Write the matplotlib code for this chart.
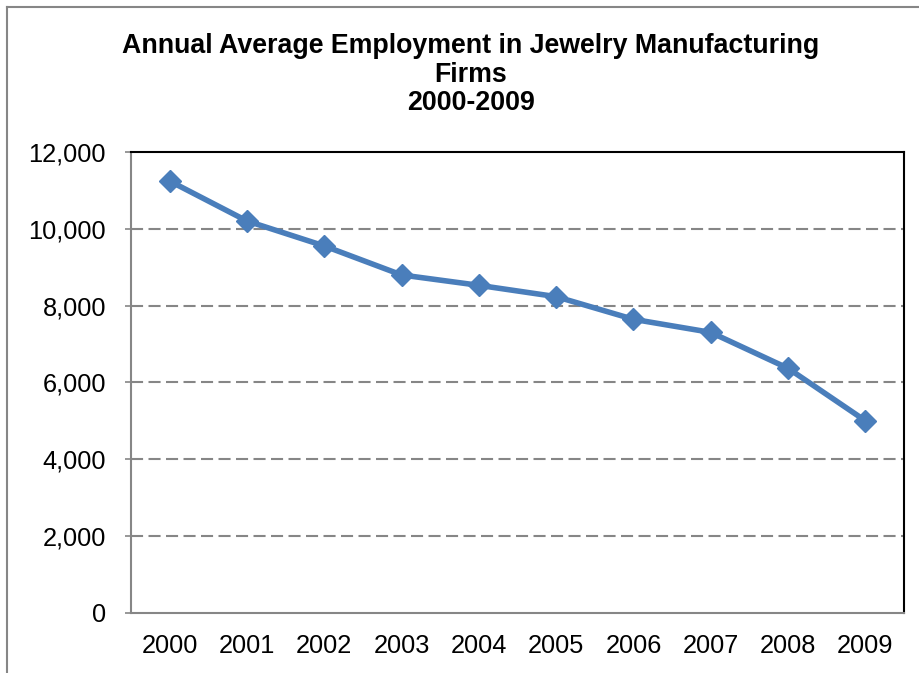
import matplotlib
matplotlib.use("Agg")
import matplotlib.pyplot as plt
from matplotlib.lines import Line2D
from matplotlib.ticker import FuncFormatter

plt.rcParams["font.family"] = ["Liberation Sans", "DejaVu Sans"]

years = ["2000", "2001", "2002", "2003", "2004", "2005", "2006", "2007", "2008", "2009"]
employment = [11245, 10205, 9555, 8800, 8530, 8235, 7645, 7305, 6370, 5005]
y_ticks = [0, 2000, 4000, 6000, 8000, 10000, 12000]

BLUE = "#4A7EBB"
GRAY = "#868686"

fig = plt.figure(figsize=(9.2, 6.73), dpi=100)
ax = fig.add_axes([0.1424, 0.0892, 0.8402, 0.6849])

x = range(len(years))
ax.plot(x, employment, color=BLUE, lw=4.0, marker="D", ms=11,
        mec=BLUE, mfc=BLUE, solid_joinstyle="round", zorder=3)

ax.set_xlim(-0.5, len(years) - 0.5)
ax.set_ylim(0, 12000)
ax.set_xticks(list(x))
ax.set_xticklabels(years)
ax.set_yticks(y_ticks)
ax.yaxis.set_major_formatter(FuncFormatter(lambda v, p: f"{int(v):,}"))

# dashed horizontal gridlines (not at the top/bottom borders)
for v in y_ticks[1:-1]:
    ax.axhline(v, color=GRAY, lw=1.5, ls=(0, (5.8, 2.6)), zorder=1)

ax.tick_params(axis="y", length=4, width=1.2, color=GRAY, pad=14, labelsize=18.3)
ax.tick_params(axis="x", length=0, pad=15, labelsize=18.3)

for side in ("left", "bottom"):
    ax.spines[side].set_color(GRAY)
    ax.spines[side].set_linewidth(1.5)
for side in ("top", "right"):
    ax.spines[side].set_color("black")
    ax.spines[side].set_linewidth(1.5)

fig.text(0.512, 0.951, "Annual Average Employment in Jewelry Manufacturing\nFirms\n2000-2009",
         ha="center", va="top", fontsize=19.3, fontweight="bold", linespacing=1.13)

# outer chart frame
fig.add_artist(Line2D([7 / 920, 1.0], [1 - 7 / 673, 1 - 7 / 673], color=GRAY, lw=1.5))
fig.add_artist(Line2D([7 / 920, 7 / 920], [0.0, 1 - 7 / 673], color=GRAY, lw=1.5))

fig.savefig("out.png", dpi=100)
